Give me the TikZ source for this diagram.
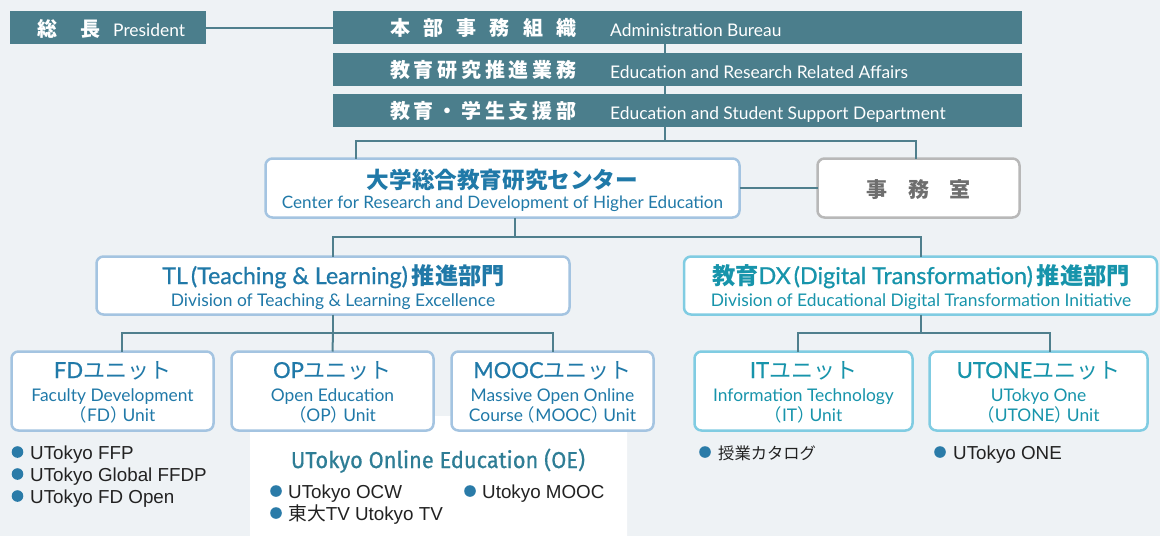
\documentclass[tikz,border=0pt]{standalone}
\usepackage{fontspec}
\setmainfont{Lato}
\newfontfamily\jp{Noto Sans CJK JP}
\newfontfamily\ar{Liberation Sans}
\newfontfamily\oefont[FakeStretch=0.95,FakeBold=0.6]{Fira Sans}
\newfontfamily\tmed[FakeBold=0.8]{Lato}
\newcommand\fsz[1]{\fontsize{#1}{#1}\selectfont}
\newcommand\lpar{{\jp（}}
\newcommand\rpar{{\jp）}\hspace{-5pt}}
\definecolor{bgc}{HTML}{EEF2F5}
\definecolor{hdfill}{HTML}{4B7E8C}
\definecolor{lnc}{HTML}{4F7F8D}
\definecolor{lblue}{HTML}{A4C4E1}
\definecolor{tblue}{HTML}{2079A8}
\definecolor{lcyan}{HTML}{80CCE2}
\definecolor{tcyan}{HTML}{1794AB}
\definecolor{gborder}{HTML}{B8B8B8}
\definecolor{gtext}{HTML}{6E6E6E}
\definecolor{dotc}{HTML}{2A7BA8}
\definecolor{oet}{HTML}{2E7D95}
\definecolor{txt}{HTML}{222222}
\begin{document}
\begin{tikzpicture}[x=1pt,y=-1pt,
  hdbox/.style={fill=hdfill, draw=none, minimum height=33pt, outer sep=0pt, inner sep=0pt},
  bbox/.style={fill=white, draw=lblue, line width=2.5pt, rounded corners=7pt, outer sep=0pt, inner sep=0pt},
  cbox/.style={bbox, draw=lcyan},
  gbox/.style={bbox, draw=gborder},
  conn/.style={draw=lnc, line width=2pt},
  lbl/.style={inner sep=0pt, anchor=base},
  lblw/.style={inner sep=0pt, anchor=base west},
  bul/.style={fill=dotc},
]
\fill[bgc] (0,0) rectangle (1160,536);
\useasboundingbox (0,0) rectangle (1160,536);
% OE panel
\fill[white, rounded corners=12pt] (250,416) rectangle (627,548);

% header boxes
\node[hdbox, minimum width=196pt] (pres) at (108,27.5) {};
\node[hdbox, minimum width=689pt] (top1) at (677.5,27.5) {};
\node[hdbox, minimum width=689pt] (top2) at (677.5,69.5) {};
\node[hdbox, minimum width=689pt] (top3) at (677.5,110.5) {};

\node[lblw, text=white] (presj) at (37,36) {\makebox[63pt][s]{\jp\bfseries\fsz{20}総\hfill 長}};
\node[lblw, text=white] (prese) at (113,36) {\fsz{17.4}President};
\node[lblw, text=white] (t1j) at (390,35) {\makebox[186pt][s]{\jp\bfseries\fsz{20}本\hfill 部\hfill 事\hfill 務\hfill 組\hfill 織}};
\node[lblw, text=white] (t1e) at (610,36) {\fsz{17.4}Administration Bureau};
\node[lblw, text=white] (t2j) at (390,77) {\makebox[186pt][s]{\jp\bfseries\fsz{20}教\hfill 育\hfill 研\hfill 究\hfill 推\hfill 進\hfill 業\hfill 務}};
\node[lblw, text=white] (t2e) at (610,78) {\fsz{17.4}Education and Research Related Affairs};
\node[lblw, text=white] (t3j) at (390,118) {\makebox[186pt][s]{\jp\bfseries\fsz{20}教\hfill 育\hfill ・\hfill 学\hfill 生\hfill 支\hfill 援\hfill 部}};
\node[lblw, text=white] (t3e) at (610,119) {\fsz{17.4}Education and Student Support Department};

% second level boxes
\node[bbox, minimum width=474pt, minimum height=59pt] (cen) at (502.5,188) {};
\node[gbox, minimum width=202pt, minimum height=59pt] (jimu) at (918.5,188) {};
\node[bbox, minimum width=473pt, minimum height=58pt] (tl) at (333,285.5) {};
\node[cbox, minimum width=473pt, minimum height=58pt] (dx) at (920.5,285.5) {};
\node[bbox, minimum width=202pt, minimum height=79pt] (fd) at (112.5,391) {};
\node[bbox, minimum width=202pt, minimum height=79pt] (op) at (332.5,391) {};
\node[bbox, minimum width=202pt, minimum height=79pt] (mooc) at (552.5,391) {};
\node[cbox, minimum width=218pt, minimum height=79pt] (it) at (803.5,391) {};
\node[cbox, minimum width=218pt, minimum height=79pt] (ut) at (1038.5,391) {};

% connectors
\coordinate (j0) at (665,141);
\coordinate (jL) at (356,141);
\coordinate (jR) at (916,141);
\coordinate (k0) at (515,237);
\coordinate (m0) at (333,333);
\coordinate (mL) at (122,333);
\coordinate (mR) at (553,333);
\coordinate (n0) at (920.5,333);
\coordinate (nL) at (798,333);
\coordinate (nR) at (1050,333);
\draw[conn] (pres.east) -- (top1.west);
\draw[conn] (top1.south -| j0) -- (top2.north -| j0);
\draw[conn] (top2.south -| j0) -- (top3.north -| j0);
\draw[conn] (top3.south -| j0) -- (j0);
\draw[conn] (cen.north -| jL) -- (jL) -- (jR) -- (jimu.north -| jR);
\draw[conn] (cen.east) -- (jimu.west);
\draw[conn] (cen.south -| k0) -- (k0);
\draw[conn] (tl.north) -- (tl.north |- k0) -- (dx.north |- k0) -- (dx.north);
\draw[conn] (tl.south) -- (m0);
\draw[conn] (fd.north -| mL) -- (mL) -- (mR) -- (mooc.north -| mR);
\draw[conn] (m0) -- (op.north);
\draw[conn] (dx.south) -- (n0);
\draw[conn] (it.north -| nL) -- (nL) -- (nR) -- (ut.north -| nR);

% box texts
\node[lbl, text=tblue] (cenj) at (502.5,188) {\jp\bfseries\fsz{22.6}大学総合教育研究センター};
\node[lbl, text=tblue] (cene) at (502.5,208) {\fsz{17.1}Center for Research and Development of Higher Education};
\node[lbl, text=gtext] (jimuj) at (918.5,197) {\makebox[104pt][s]{\jp\bfseries\fsz{21}事\hfill 務\hfill 室}};
\node[lbl, text=tblue] (tlj) at (333.5,284) {\fsz{23.2}\tmed TL\hspace{3pt}(Teaching \& Learning)\hspace{4pt}{\jp\bfseries 推進部門}};
\node[lbl, text=tblue] (tle) at (333,306) {\fsz{17.4}Division of Teaching \& Learning Excellence};
\node[lbl, text=tcyan] (dxj) at (921,284) {\fsz{23.3}\tmed{\jp\bfseries 教育}DX\hspace{3pt}(Digital Transformation)\hspace{4pt}{\jp\bfseries 推進部門}};
\node[lbl, text=tcyan] (dxe) at (921,306) {\fsz{17.4}Division of Educational Digital Transformation Initiative};

\node[lbl, text=tblue] (fdj) at (112.5,378) {\fsz{22}\tmed FD{\jp ユニット}};
\node[lbl, text=tblue] (fde1) at (112.5,401) {\fsz{17.4}Faculty Development};
\node[lbl, text=tblue] (fde2) at (112.5,421) {\fsz{17.4}\lpar FD\rpar Unit};
\node[lbl, text=tblue] (opj) at (332.5,378) {\fsz{22}\tmed OP{\jp ユニット}};
\node[lbl, text=tblue] (ope1) at (332.5,401) {\fsz{17.4}Open Education};
\node[lbl, text=tblue] (ope2) at (332.5,421) {\fsz{17.4}\lpar OP\rpar Unit};
\node[lbl, text=tblue] (moj) at (552.5,378) {\fsz{22}\tmed MOOC{\jp ユニット}};
\node[lbl, text=tblue] (moe1) at (552.5,401) {\fsz{17.4}Massive Open Online};
\node[lbl, text=tblue] (moe2) at (552.5,421) {\fsz{17.4}Course\hspace{-5pt}\lpar MOOC\rpar Unit};
\node[lbl, text=tcyan] (itj) at (803.5,378) {\fsz{22}\tmed IT{\jp ユニット}};
\node[lbl, text=tcyan] (ite1) at (803.5,401) {\fsz{17.4}Information Technology};
\node[lbl, text=tcyan] (ite2) at (803.5,421) {\fsz{17.4}\lpar IT\rpar Unit};
\node[lbl, text=tcyan] (utj) at (1038.5,378) {\fsz{22}\tmed UTONE{\jp ユニット}};
\node[lbl, text=tcyan] (ute1) at (1038.5,401) {\fsz{17.4}UTokyo One};
\node[lbl, text=tcyan] (ute2) at (1038.5,421) {\fsz{17.4}\lpar UTONE\rpar Unit};

% bullet lists
\fill[bul] (17.5,452) circle (5.8pt);
\fill[bul] (17.5,474) circle (5.8pt);
\fill[bul] (17.5,496) circle (5.8pt);
\node[lblw, text=txt] (b1) at (30,459) {\ar\fsz{18.8}UTokyo FFP};
\node[lblw, text=txt] (b2) at (30,481) {\ar\fsz{18.8}UTokyo Global FFDP};
\node[lblw, text=txt] (b3) at (30,503) {\ar\fsz{18.8}UTokyo FD Open};

\node[lbl, text=oet] (oet) at (438,468) {\oefont\fsz{23}UTokyo Online Education (OE)};
\fill[bul] (276,491) circle (5.8pt);
\fill[bul] (470,491) circle (5.8pt);
\fill[bul] (276,513) circle (5.8pt);
\node[lblw, text=txt] (o1) at (288,498) {\ar\fsz{18.8}UTokyo OCW};
\node[lblw, text=txt] (o2) at (482,498) {\ar\fsz{18.8}Utokyo MOOC};
\node[lblw, text=txt] (o3) at (288,520) {\ar\fsz{18.8}{\jp 東大}TV Utokyo TV};

\fill[bul] (705,452) circle (5.8pt);
\node[lblw, text=txt] (i1) at (718,459) {\fsz{16.3}{\jp 授業カタログ}};
\fill[bul] (940,452) circle (5.8pt);
\node[lblw, text=txt] (u1) at (953,459) {\ar\fsz{18.8}UTokyo ONE};
\end{tikzpicture}
\end{document}
